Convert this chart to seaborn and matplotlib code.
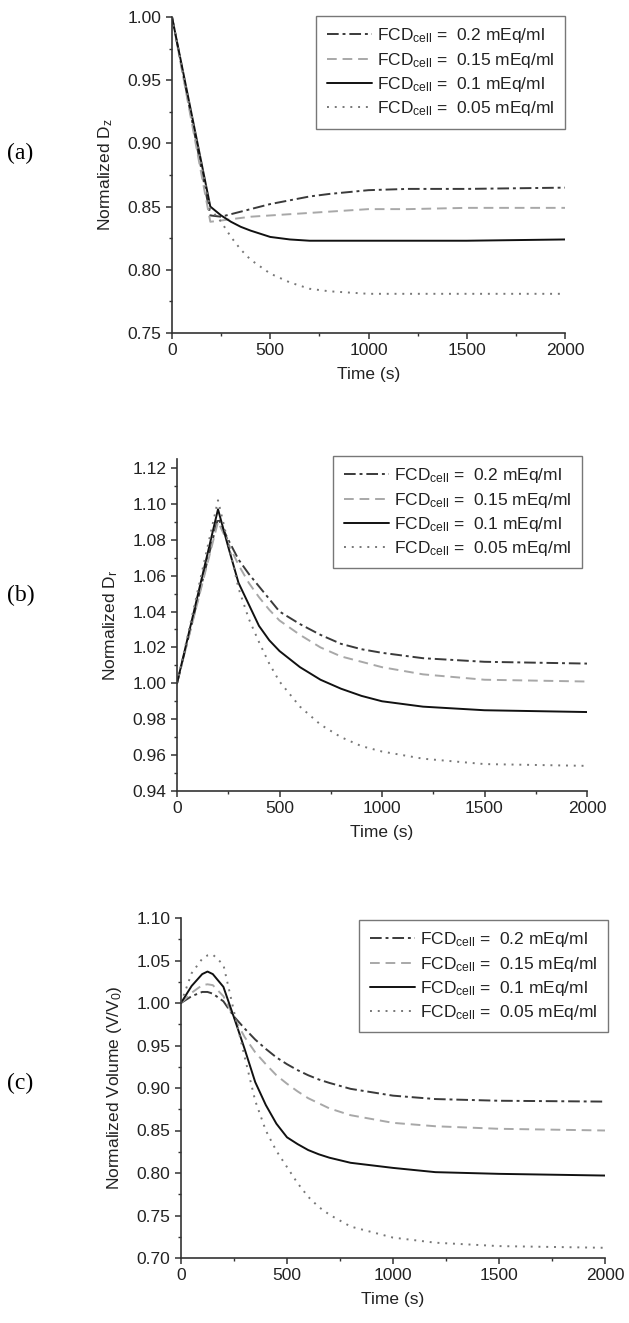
import pandas as pd
import matplotlib
matplotlib.use('Agg')
import matplotlib.pyplot as plt
from matplotlib.ticker import MultipleLocator, AutoMinorLocator
import seaborn as sns

# Series labels (legend order)
labels = [r'FCD$_{\rm cell}$ =  0.2 mEq/ml',
          r'FCD$_{\rm cell}$ =  0.15 mEq/ml',
          r'FCD$_{\rm cell}$ =  0.1 mEq/ml',
          r'FCD$_{\rm cell}$ =  0.05 mEq/ml']

# (a) Normalized Dz
time_a = [0, 195, 250, 300, 350, 400, 500, 600, 700, 800, 1000, 1200, 1500, 2000]
dz_02 = [1.0, 0.843, 0.842, 0.844, 0.846, 0.848, 0.852, 0.855, 0.858, 0.860, 0.863, 0.864, 0.864, 0.865]
dz_015 = [1.0, 0.838, 0.839, 0.840, 0.841, 0.842, 0.843, 0.844, 0.845, 0.846, 0.848, 0.848, 0.849, 0.849]
dz_01 = [1.0, 0.850, 0.843, 0.838, 0.834, 0.831, 0.826, 0.824, 0.823, 0.823, 0.823, 0.823, 0.823, 0.824]
dz_005 = [1.0, 0.848, 0.838, 0.826, 0.816, 0.808, 0.797, 0.790, 0.785, 0.783, 0.781, 0.781, 0.781, 0.781]

# (b) Normalized Dr
time_b = [0, 200, 250, 300, 350, 400, 450, 500, 600, 700, 800, 900, 1000, 1200, 1500, 2000]
dr_02 = [1.0, 1.092, 1.080, 1.069, 1.061, 1.054, 1.047, 1.040, 1.033, 1.027, 1.022, 1.019, 1.017, 1.014, 1.012, 1.011]
dr_015 = [1.0, 1.090, 1.078, 1.066, 1.056, 1.048, 1.041, 1.035, 1.027, 1.020, 1.015, 1.012, 1.009, 1.005, 1.002, 1.001]
dr_01 = [1.0, 1.097, 1.076, 1.056, 1.044, 1.032, 1.024, 1.018, 1.009, 1.002, 0.997, 0.993, 0.990, 0.987, 0.985, 0.984]
dr_005 = [1.0, 1.102, 1.078, 1.053, 1.036, 1.023, 1.011, 1.001, 0.987, 0.977, 0.970, 0.965, 0.962, 0.958, 0.955, 0.954]

# (c) Normalized volume
time_c = [0, 50, 100, 125, 150, 200, 250, 300, 350, 400, 450, 500, 550, 600, 650, 700, 800, 1000, 1200, 1500, 2000]
vol_02 = [1.0, 1.008, 1.013, 1.013, 1.011, 1.002, 0.984, 0.970, 0.957, 0.946, 0.936, 0.928, 0.921, 0.915, 0.910, 0.906,
          0.899, 0.891, 0.887, 0.885, 0.884]
vol_015 = [1.0, 1.012, 1.021, 1.022, 1.021, 1.008, 0.983, 0.960, 0.942, 0.928, 0.915, 0.905, 0.896, 0.888, 0.882, 0.876,
           0.868, 0.859, 0.855, 0.852, 0.850]
vol_01 = [1.0, 1.020, 1.034, 1.037, 1.034, 1.019, 0.983, 0.946, 0.907, 0.880, 0.858, 0.842, 0.834, 0.827, 0.822, 0.818,
          0.812, 0.806, 0.801, 0.799, 0.797]
vol_005 = [1.0, 1.035, 1.052, 1.056, 1.057, 1.045, 0.990, 0.937, 0.885, 0.850, 0.826, 0.807, 0.788, 0.772, 0.760, 0.751,
           0.737, 0.724, 0.718, 0.714, 0.712]

colors = dict(zip(labels, ['#3a3a3a', '#a8a8a8', '#111111', '#777777']))
dashes = dict(zip(labels, [(6, 2, 1.5, 2), (5, 3), '', (1, 3)]))

sns.set_style('ticks')
plt.rcParams['font.family'] = ['Liberation Sans', 'DejaVu Sans']
plt.rcParams['mathtext.fontset'] = 'custom'
plt.rcParams['mathtext.rm'] = 'Liberation Sans'
plt.rcParams['mathtext.it'] = 'Liberation Sans:italic'
plt.rcParams['font.size'] = 12.5
plt.rcParams['text.color'] = '#222222'
plt.rcParams['axes.labelcolor'] = '#222222'
plt.rcParams['xtick.color'] = '#333333'
plt.rcParams['ytick.color'] = '#333333'
plt.rcParams['xtick.labelcolor'] = '#222222'
plt.rcParams['ytick.labelcolor'] = '#222222'

W, H = 629, 1323
fig = plt.figure(figsize=(W / 100, H / 100), dpi=100)


def make_df(t, series):
    rows = []
    for lab, vals in zip(labels, series):
        for x, y in zip(t, vals):
            rows.append({'time': x, 'value': y, 'series': lab})
    return pd.DataFrame(rows)


def panel(rect, t, series, ylim, ystep, ylabel, anchor, tag, tag_y):
    l, top, r, bottom = rect
    ax = fig.add_axes([l / W, 1 - bottom / H, (r - l) / W, (bottom - top) / H])
    df = make_df(t, series)
    sns.lineplot(data=df, x='time', y='value', hue='series', style='series',
                 hue_order=labels, style_order=labels, palette=colors,
                 dashes=dashes, linewidth=1.4, sort=False, ax=ax)
    ax.set_xlim(0, 2000)
    ax.set_ylim(*ylim)
    ax.xaxis.set_major_locator(MultipleLocator(500))
    ax.yaxis.set_major_locator(MultipleLocator(ystep))
    ax.xaxis.set_minor_locator(AutoMinorLocator(2))
    ax.yaxis.set_minor_locator(AutoMinorLocator(2))
    ax.yaxis.set_major_formatter(plt.FormatStrFormatter('%.2f'))
    ax.tick_params(which='major', length=4, width=1.1, labelsize=12.5)
    ax.tick_params(which='minor', length=2.5, width=1.0)
    ax.set_xlabel('Time (s)', fontsize=12.5, labelpad=6)
    ax.set_ylabel(ylabel, fontsize=12.5, labelpad=9)
    sns.despine(ax=ax)
    for s in ['left', 'bottom']:
        ax.spines[s].set_linewidth(1.2)
        ax.spines[s].set_color('#333333')
    sns.move_legend(ax, 'upper right', bbox_to_anchor=anchor, title=None,
                    frameon=True, fancybox=False, edgecolor='#555555',
                    fontsize=12.5, handlelength=2.6, handletextpad=0.3,
                    labelspacing=0.3, borderpad=0.6, borderaxespad=0)
    ax.get_legend().get_frame().set_linewidth(1.0)
    fig.text(7 / W, 1 - tag_y / H, tag, family='Liberation Serif',
             fontsize=17, va='center', ha='left', color='black')
    return ax


panel((172, 17, 565, 333), time_a, [dz_02, dz_015, dz_01, dz_005],
      (0.75, 1.00), 0.05, r'Normalized D$_{\rm z}$', (1.0, 1.003), '(a)', 153)
panel((177, 459, 587, 791), time_b, [dr_02, dr_015, dr_01, dr_005],
      (0.94, 1.125), 0.02, r'Normalized D$_{\rm r}$', (0.988, 1.009), '(b)', 595)
panel((181, 918, 605, 1258), time_c, [vol_02, vol_015, vol_01, vol_005],
      (0.70, 1.10), 0.05, r'Normalized Volume (V/V$_0$)', (1.007, 0.994), '(c)', 1083)

fig.savefig('out.png', dpi=100)
